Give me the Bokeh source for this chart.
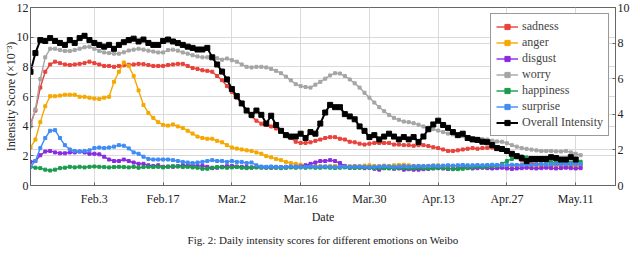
import numpy as np
import pandas as pd
from bokeh.plotting import figure
from bokeh.models import (Range1d, LinearAxis, FixedTicker, Legend, LegendItem,
                          Grid, Title)
from bokeh.embed import file_html
from bokeh.resources import INLINE

start_date = "2020-01-21"

sadness = [4.17, 5.05, 6.6, 7.67, 8.16, 8.35, 8.25, 8.16, 8.12, 8.16,
           8.2, 8.25, 8.35, 8.25, 8.16, 8.06, 8.06, 8.0, 8.06, 8.1,
           8.14, 8.16, 8.2, 8.18, 8.12, 8.06, 8.06, 8.06, 8.12, 8.16,
           8.2, 8.2, 8.06, 7.92, 7.86, 7.77, 7.73, 7.67, 7.38, 7.1,
           6.7, 6.31, 5.92, 5.53, 5.05, 4.66, 4.37, 4.17, 4.08, 3.98,
           3.84, 3.69, 3.46, 3.2, 2.95, 2.87, 2.87, 2.91, 3.01, 3.1,
           3.2, 3.26, 3.26, 3.15, 3.1, 2.95, 2.91, 2.82, 2.76, 2.82,
           2.87, 2.87, 2.87, 2.87, 2.76, 2.76, 2.72, 2.72, 2.68, 2.72,
           2.72, 2.66, 2.58, 2.52, 2.43, 2.33, 2.33, 2.37, 2.43, 2.48,
           2.52, 2.48, 2.52, 2.54, 2.56, 2.52, 2.43, 2.33, 2.14, 1.98,
           1.7, 1.6, 1.52, 1.46, 1.42, 1.4, 1.4, 1.38, 1.4, 1.38,
           1.4, 1.4, 1.38]

anger = [2.56, 3.1, 4.27, 5.34, 6.02, 6.02, 6.06, 6.12, 6.12, 6.12,
         5.98, 5.98, 5.92, 5.86, 5.83, 5.92, 5.98, 6.99, 7.67, 8.29,
         8.06, 7.38, 6.41, 5.43, 4.89, 4.56, 4.27, 4.08, 4.04, 4.12,
         3.98, 3.88, 3.69, 3.5, 3.3, 3.2, 3.15, 3.15, 3.01, 2.91,
         2.72, 2.56, 2.49, 2.43, 2.37, 2.33, 2.23, 2.14, 1.98, 1.9,
         1.79, 1.71, 1.59, 1.51, 1.46, 1.4, 1.36, 1.34, 1.3, 1.3,
         1.28, 1.3, 1.32, 1.3, 1.28, 1.3, 1.32, 1.3, 1.34, 1.36,
         1.32, 1.3, 1.34, 1.32, 1.36, 1.38, 1.4, 1.36, 1.32, 1.3,
         1.32, 1.3, 1.34, 1.36, 1.3, 1.28, 1.3, 1.32, 1.3, 1.28,
         1.3, 1.32, 1.3, 1.34, 1.32, 1.3, 1.28, 1.3, 1.3, 1.32,
         1.3, 1.28, 1.3, 1.32, 1.3, 1.28, 1.3, 1.32, 1.3, 1.28,
         1.3, 1.3, 1.3]

disgust = [1.59, 1.65, 2.04, 2.29, 2.33, 2.23, 2.17, 2.17, 2.23, 2.23,
           2.29, 2.23, 2.14, 2.14, 2.1, 1.94, 1.75, 1.65, 1.65, 1.75,
           1.65, 1.55, 1.46, 1.46, 1.36, 1.32, 1.36, 1.26, 1.28, 1.26,
           1.3, 1.36, 1.34, 1.36, 1.32, 1.32, 1.26, 1.17, 1.2, 1.26,
           1.3, 1.32, 1.28, 1.26, 1.24, 1.22, 1.24, 1.26, 1.22, 1.2,
           1.22, 1.24, 1.22, 1.24, 1.26, 1.28, 1.36, 1.46, 1.55, 1.65,
           1.65, 1.71, 1.65, 1.51, 1.32, 1.2, 1.26, 1.22, 1.17, 1.2,
           1.13, 1.07, 1.17, 1.2, 1.13, 1.15, 1.07, 1.1, 1.07, 1.07,
           1.1, 1.12, 1.15, 1.17, 1.15, 1.12, 1.15, 1.17, 1.2, 1.17,
           1.15, 1.17, 1.2, 1.17, 1.15, 1.17, 1.2, 1.15, 1.12, 1.15,
           1.17, 1.2, 1.17, 1.15, 1.17, 1.2, 1.17, 1.15, 1.17, 1.2,
           1.17, 1.15, 1.17]

worry = [3.98, 5.14, 7.18, 8.64, 9.22, 9.22, 9.13, 9.07, 9.07, 9.13,
         9.22, 9.32, 9.36, 9.22, 9.07, 8.97, 8.93, 8.89, 8.89, 8.98,
         9.1, 9.16, 9.22, 9.16, 9.09, 9.03, 8.97, 8.97, 9.13, 9.16,
         9.09, 8.97, 8.89, 8.78, 8.7, 8.64, 8.64, 8.64, 8.58, 8.48,
         8.56, 8.45, 8.35, 8.16, 8.0, 7.96, 8.0, 8.0, 7.96, 7.86,
         7.73, 7.57, 7.34, 7.09, 6.83, 6.7, 6.64, 6.6, 6.8, 6.99,
         7.2, 7.42, 7.57, 7.55, 7.38, 7.15, 6.89, 6.6, 6.25, 5.92,
         5.59, 5.28, 5.01, 4.76, 4.56, 4.43, 4.31, 4.27, 4.2, 4.1,
         3.98, 3.9, 3.8, 3.7, 3.6, 3.5, 3.45, 3.4, 3.33, 3.26,
         3.2, 3.15, 3.12, 3.1, 3.02, 2.97, 2.95, 2.85, 2.72, 2.62,
         2.52, 2.47, 2.42, 2.37, 2.33, 2.33, 2.33, 2.3, 2.29, 2.33,
         2.23, 2.14, 2.04]

happiness = [1.26, 1.2, 1.17, 1.07, 1.01, 1.07, 1.17, 1.2, 1.26, 1.22,
             1.26, 1.22, 1.26, 1.28, 1.26, 1.24, 1.22, 1.24, 1.26, 1.24,
             1.22, 1.26, 1.2, 1.24, 1.26, 1.24, 1.26, 1.22, 1.26, 1.3,
             1.28, 1.24, 1.26, 1.22, 1.2, 1.13, 1.13, 1.2, 1.24, 1.22,
             1.2, 1.22, 1.24, 1.2, 1.17, 1.2, 1.22, 1.2, 1.2, 1.22,
             1.2, 1.17, 1.2, 1.22, 1.2, 1.22, 1.2, 1.22, 1.2, 1.2,
             1.22, 1.2, 1.18, 1.2, 1.22, 1.2, 1.18, 1.2, 1.22, 1.2,
             1.18, 1.2, 1.17, 1.15, 1.18, 1.2, 1.17, 1.15, 1.17, 1.2,
             1.17, 1.15, 1.17, 1.2, 1.17, 1.17, 1.1, 1.1, 1.13, 1.2,
             1.22, 1.26, 1.24, 1.26, 1.3, 1.32, 1.46, 1.65, 1.79, 1.9,
             1.96, 1.89, 1.78, 1.7, 1.65, 1.6, 1.57, 1.55, 1.51, 1.5,
             1.53, 1.56, 1.6]

surprise = [1.26, 1.65, 2.52, 3.2, 3.69, 3.73, 3.2, 2.72, 2.43, 2.33,
            2.29, 2.33, 2.37, 2.52, 2.56, 2.52, 2.56, 2.62, 2.72, 2.68,
            2.5, 2.23, 2.14, 1.94, 1.79, 1.75, 1.75, 1.75, 1.75, 1.71,
            1.65, 1.59, 1.55, 1.51, 1.55, 1.59, 1.65, 1.71, 1.65, 1.65,
            1.59, 1.65, 1.59, 1.59, 1.51, 1.55, 1.36, 1.26, 1.26, 1.28,
            1.26, 1.24, 1.26, 1.28, 1.26, 1.24, 1.26, 1.28, 1.26, 1.26,
            1.28, 1.26, 1.24, 1.26, 1.28, 1.26, 1.26, 1.28, 1.26, 1.24,
            1.26, 1.28, 1.3, 1.28, 1.26, 1.28, 1.3, 1.28, 1.3, 1.32,
            1.3, 1.32, 1.34, 1.32, 1.34, 1.36, 1.34, 1.36, 1.38, 1.36,
            1.36, 1.38, 1.36, 1.38, 1.4, 1.38, 1.36, 1.38, 1.4, 1.38,
            1.4, 1.42, 1.4, 1.42, 1.44, 1.42, 1.44, 1.46, 1.44, 1.46,
            1.45, 1.46, 1.45]

overall = [6.39, 7.44, 8.17, 8.12, 8.28, 8.12, 8.01, 7.9, 8.17, 8.01,
           8.28, 8.41, 8.17, 8.01, 7.9, 7.8, 7.9, 7.68, 7.9, 8.05,
           8.17, 8.25, 8.09, 8.2, 8.01, 7.9, 7.9, 8.12, 8.2, 8.09,
           8.0, 7.9, 7.8, 7.73, 7.64, 7.64, 7.73, 7.2, 6.8, 6.4,
           5.96, 5.42, 5.02, 4.61, 4.21, 3.97, 4.21, 3.97, 3.48, 3.92,
           3.4, 3.07, 2.83, 2.75, 2.75, 2.91, 2.67, 3.0, 2.91, 3.48,
           4.1, 4.53, 4.4, 4.4, 4.01, 3.88, 3.72, 3.32, 3.07, 2.72,
           2.83, 2.59, 2.75, 2.91, 2.75, 2.59, 2.72, 2.59, 2.72, 2.45,
           2.75, 3.16, 3.43, 3.64, 3.4, 3.24, 3.0, 2.83, 2.91, 2.67,
           2.59, 2.56, 2.46, 2.43, 2.27, 2.1, 2.05, 1.94, 1.78, 1.65,
           1.54, 1.37, 1.49, 1.49, 1.49, 1.49, 1.59, 1.54, 1.46, 1.46,
           1.59, 1.46]

tick_dates = ["2020-02-03", "2020-02-17", "2020-03-02", "2020-03-16",
              "2020-03-30", "2020-04-13", "2020-04-27", "2020-05-11"]
tick_labels = ["Feb.3", "Feb.17", "Mar.2", "Mar.16", "Mar.30", "Apr.13",
               "Apr.27", "May.11"]
left_ticks = [0, 2, 4, 6, 8, 10, 12]
right_ticks = [0, 2, 4, 6, 8, 10]

series = [("sadness", sadness, "#e8423b"),
          ("anger", anger, "#f5a800"),
          ("disgust", disgust, "#8a2be2"),
          ("worry", worry, "#a5a5a5"),
          ("happiness", happiness, "#1b9c4c"),
          ("surprise", surprise, "#3f8cf5")]

FONT = "Liberation Serif"

dates = pd.date_range(start_date, periods=len(sadness), freq="D")
odates = dates[:len(overall)]
t0 = pd.Timestamp(start_date)
x_start = t0.value / 1e6
x_end = (t0 + pd.Timedelta(days=119.1)).value / 1e6

p = figure(width=632, height=250, x_axis_type="datetime",
           output_backend="svg", toolbar_location=None,
           x_range=Range1d(x_start, x_end), y_range=Range1d(0, 12),
           min_border_left=0, min_border_right=0, min_border_top=7,
           min_border_bottom=0)
p.extra_y_ranges = {"right": Range1d(0, 10)}

tick_ms = [pd.Timestamp(d).value / 1e6 for d in tick_dates]
xaxis = p.below[0]
laxis = p.left[0]
xaxis.ticker = FixedTicker(ticks=tick_ms)
xaxis.major_label_overrides = {t: l for t, l in zip(tick_ms, tick_labels)}
laxis.ticker = FixedTicker(ticks=left_ticks)

raxis = LinearAxis(y_range_name="right", ticker=FixedTicker(ticks=right_ticks))
p.add_layout(raxis, "right")

for ax in [xaxis, laxis, raxis]:
    ax.major_label_text_font = FONT
    ax.major_label_text_font_size = "12px"
    ax.major_label_text_color = "#222222"
    ax.axis_label_text_font = FONT
    ax.axis_label_text_font_size = "12px"
    ax.axis_label_text_font_style = "normal"
    ax.axis_label_text_color = "#222222"
    ax.major_tick_in = 3
    ax.major_tick_out = 0
    ax.minor_tick_line_color = None
    ax.axis_line_color = "#666666"
    ax.major_tick_line_color = "#666666"
    ax.major_label_standoff = 3

xaxis.axis_label = "Date"
xaxis.major_label_standoff = 6
xaxis.axis_label_standoff = 1
laxis.axis_label = "Intensity Score (×10⁻³)"
laxis.axis_label_standoff = -4
laxis.major_label_standoff = 2
raxis.major_label_standoff = 2

p.outline_line_color = "#666666"
p.outline_line_width = 1

p.xgrid.ticker = FixedTicker(ticks=tick_ms)
p.xgrid.grid_line_color = "#dadada"
p.ygrid.ticker = FixedTicker(ticks=left_ticks)
p.ygrid.grid_line_color = "#dadada"
rgrid = Grid(dimension=1, ticker=FixedTicker(ticks=right_ticks),
             y_range_name="right", grid_line_color="#dadada")
p.add_layout(rgrid)

items = []
for name, vals, col in series:
    ln = p.line(dates, vals, line_color=col, line_width=1.4)
    sc = p.scatter(dates, vals, marker="square", size=3, color=col)
    items.append(LegendItem(label=name, renderers=[ln, sc]))

ln = p.line(odates, overall, line_color="black", line_width=2,
            y_range_name="right")
sc = p.scatter(odates, overall, marker="square", size=5, color="black",
               y_range_name="right")
items.append(LegendItem(label="Overall Intensity", renderers=[ln, sc]))

legend = Legend(items=items, location="top_right")
legend.label_text_font = "Liberation Serif"
legend.label_text_font_size = "12px"
legend.label_text_line_height = 1.0
legend.label_height = 13
legend.glyph_height = 13
legend.glyph_width = 22
legend.spacing = 1
legend.padding = 5
legend.margin = 6
legend.label_standoff = 4
legend.border_line_color = "#333333"
legend.border_line_width = 1
legend.background_fill_alpha = 1
p.add_layout(legend, "center")

cap = Title(text="Fig. 2: Daily intensity scores for different emotions on Weibo",
            align="center", text_font=FONT, text_font_size="11px",
            text_font_style="normal", text_color="#222222")
p.add_layout(cap, "below")

open("out.html", "w").write(file_html(p, INLINE))
